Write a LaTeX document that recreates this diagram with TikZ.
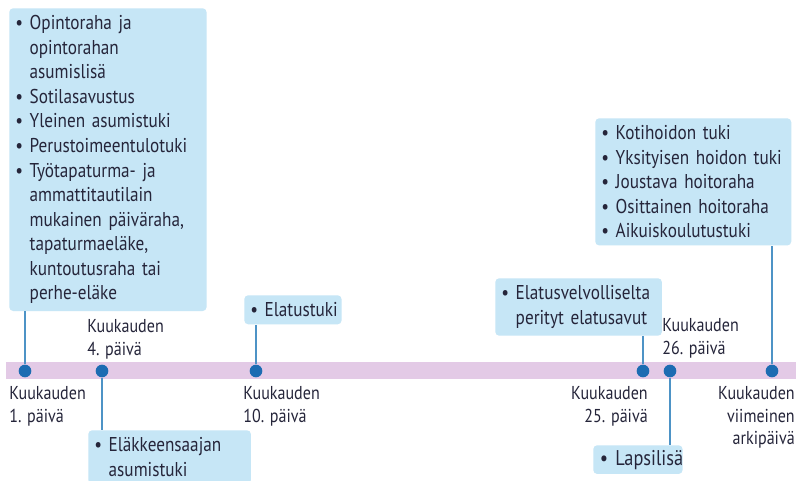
\documentclass[tikz,border=0pt]{standalone}
\usepackage{fontspec}
\setmainfont{PT Sans}[FakeStretch=0.86]
\usetikzlibrary{positioning}
\definecolor{boxblue}{HTML}{C6E6F6}
\definecolor{bandpink}{HTML}{E3CAE6}
\definecolor{dotblue}{HTML}{1C6CB2}
\definecolor{linkblue}{HTML}{4D93C6}
\definecolor{txtgray}{HTML}{25253A}
\tikzstyle{every node}=[font=\fontsize{15}{18.4}\selectfont,text=txtgray]
\tikzstyle{infobox}=[fill=boxblue,rounded corners=3pt,align=left,anchor=north west,inner xsep=4.5pt,inner ysep=5.5pt]
\tikzstyle{daydot}=[circle,fill=dotblue,inner sep=0pt,minimum size=9.5pt]
\tikzstyle{daylabel}=[inner sep=0pt,font=\fontsize{14}{17}\selectfont]
\tikzstyle{link}=[linkblue,line width=1.1pt]
\newcommand{\itm}{\textbullet\ }
\newcommand{\ind}{\hphantom{\textbullet\ }}

\begin{document}
\begin{tikzpicture}[x=0.75pt,y=-0.75pt]
\useasboundingbox[fill=white] (0,0) rectangle (796,481);
% band
\fill[bandpink] (6,362) rectangle (796,379);
% days
\node[daydot] (d1) at (25,371) {};
\node[daydot] (d4) at (102,371) {};
\node[daydot] (d10) at (256,371) {};
\node[daydot] (d25) at (643,371) {};
\node[daydot] (d26) at (670,371) {};
\node[daydot] (dlast) at (772,371) {};
% labels
\node[daylabel,anchor=north west,align=left] (l1) at (9,386) {Kuukauden\\1. päivä};
\node[daylabel,anchor=north west,align=left] (l4) at (87,319) {Kuukauden\\4. päivä};
\node[daylabel,anchor=north west,align=left] (l10) at (243,386) {Kuukauden\\10. päivä};
\node[daylabel,anchor=north east,align=right] (l25) at (648,386) {Kuukauden\\25. päivä};
\node[daylabel,anchor=north west,align=left] (l26) at (662,318) {Kuukauden\\26. päivä};
\node[daylabel,anchor=north east,align=right] (llast) at (795,386) {Kuukauden\\viimeinen\\arkipäivä};
% boxes
\node[infobox,text width=139pt] (opinto) at (9,8) {\itm Opintoraha ja\\\ind opintorahan\\\ind asumislisä\\
  \itm Sotilasavustus\\\itm Yleinen asumistuki\\\itm Perustoimeentulotuki\\
  \itm Työtapaturma- ja\\\ind ammattitautilain\\\ind mukainen päiväraha,\\\ind tapaturmaeläke,\\
  \ind kuntoutusraha tai\\\ind perhe-eläke};
\node[infobox,text width=64pt] (elatus) at (244,295) {\mbox{\itm Elatustuki}};
\node[infobox,text width=113pt] (elake) at (88,430) {\itm Eläkkeensaajan\\\ind asumistuki};
\node[infobox,text width=116pt] (perityt) at (495,278) {\mbox{\itm Elatusvelvolliselta}\\\ind perityt elatusavut};
\node[infobox,text width=138pt] (koti) at (595,118) {\itm Kotihoidon tuki\\\mbox{\itm Yksityisen hoidon tuki}\\
  \itm Joustava hoitoraha\\\itm Osittainen hoitoraha\\\itm Aikuiskoulutustuki};
\node[infobox,text width=57pt,inner xsep=5pt,inner ysep=3.5pt,font=\fontsize{16}{18.4}\selectfont] (lapsi) at (593,445) {\mbox{\itm Lapsilisä}};
% links
\draw[link] (d1.north) -- (d1 |- opinto.south);
\draw[link] (d10.north) -- (d10 |- elatus.south);
\draw[link] (d25.north) -- (d25 |- perityt.south);
\draw[link] (dlast.north) -- (dlast |- koti.south);
\draw[link] (d4.south) -- (d4 |- elake.north);
\draw[link] (d26.south) -- (d26 |- lapsi.north);
\end{tikzpicture}
\end{document}
